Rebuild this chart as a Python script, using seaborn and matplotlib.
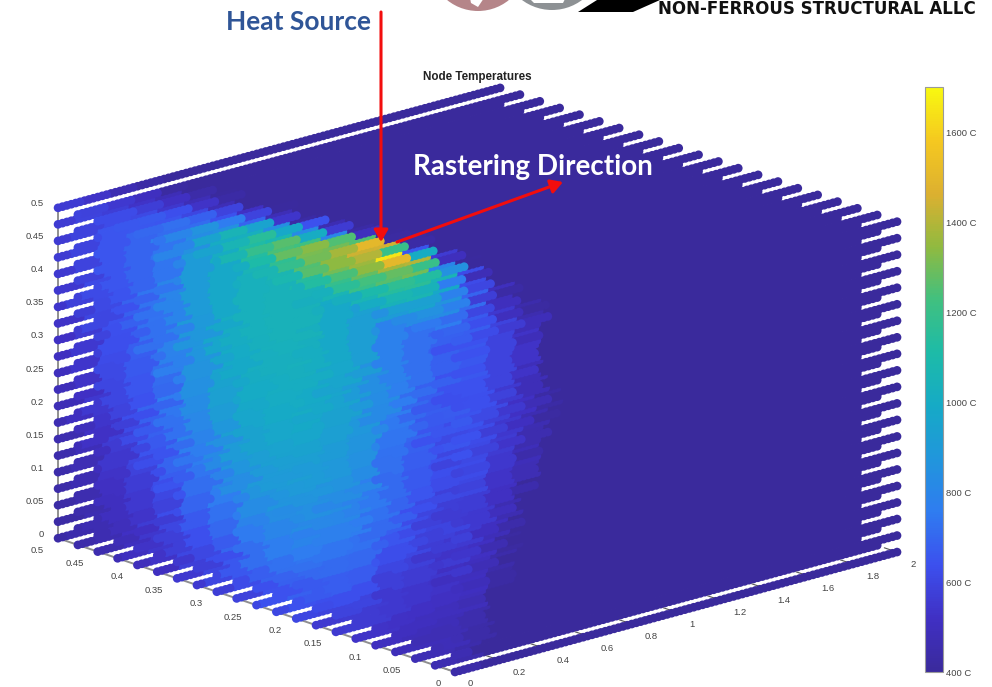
import numpy as np
import seaborn as sns
import matplotlib
matplotlib.use("Agg")
import matplotlib.pyplot as plt
from matplotlib.cm import ScalarMappable
from matplotlib.colors import Normalize
from matplotlib.patches import Circle, Polygon
from mpl_toolkits.mplot3d import proj3d

# ---------- data ----------
title = "Node Temperatures"
x_ticks = [0, 0.2, 0.4, 0.6, 0.8, 1, 1.2, 1.4, 1.6, 1.8, 2]
y_ticks = [0, 0.05, 0.1, 0.15, 0.2, 0.25, 0.3, 0.35, 0.4, 0.45, 0.5]
z_ticks = [0, 0.05, 0.1, 0.15, 0.2, 0.25, 0.3, 0.35, 0.4, 0.45, 0.5]
bar_ticks = [400, 600, 800, 1000, 1200, 1400, 1600]
bar_labels = ["400 C", "600 C", "800 C", "1000 C", "1200 C", "1400 C", "1600 C"]
t_min, t_max = 400, 1700
base_temp = 400

# x = 0 face: rows z = .425 ... 0, columns y = .5 ... 0 (step .025)
left_face = [
 [560,590,620,650,690,740,800,900,980,1010,1030,1040,1040,1020,980,920,850,780,720,680,640],
 [555,585,615,645,685,735,795,890,975,1005,1025,1030,1030,1010,970,910,840,770,710,670,630],
 [550,580,610,640,680,730,790,880,965,995,1015,1020,1020,1000,960,900,830,760,700,660,620],
 [540,570,600,635,675,725,785,870,955,985,1005,1010,1010,990,950,890,820,750,690,650,610],
 [530,560,590,630,670,720,780,860,945,975,995,1000,1000,980,940,880,810,740,680,640,600],
 [520,550,580,620,660,710,770,845,930,960,980,990,985,965,925,865,800,730,670,630,590],
 [510,540,570,610,650,700,760,830,910,945,965,970,965,945,905,850,785,720,660,620,580],
 [500,530,560,600,640,690,745,810,880,925,945,950,945,925,885,830,770,705,650,610,570],
 [490,520,550,590,630,680,730,790,850,900,920,925,920,900,860,810,750,690,635,595,560],
 [480,510,540,575,615,660,710,765,820,870,895,900,895,875,835,785,730,670,620,580,545],
 [470,495,525,560,600,645,690,740,790,835,865,870,865,845,805,760,705,650,600,565,530],
 [460,485,510,545,585,625,670,715,760,800,830,835,830,810,775,730,680,625,580,545,515],
 [450,475,500,530,565,605,645,690,730,765,790,800,795,775,740,700,650,600,560,530,505],
 [445,465,490,515,550,585,625,660,700,730,755,765,760,740,705,665,620,575,540,515,495],
 [440,460,480,505,535,565,600,635,665,695,715,725,720,700,670,630,590,550,520,500,485],
 [435,455,470,495,520,545,575,605,630,655,675,685,680,660,630,595,560,525,505,490,475],
 [430,450,465,485,505,530,550,575,600,620,635,640,640,620,590,560,530,505,490,475,465],
 [430,445,460,475,495,510,530,550,570,585,600,605,600,580,555,530,505,490,475,465,455],
]

# top surface: rows y = .5 ... 0 (step .025), columns x = 0, .05, ... .7
top_face = [
 [560,560,550,530,510,490,470,450,430,410,400,400,400,400,400],
 [590,590,585,570,550,530,505,480,450,420,400,400,400,400,400],
 [620,620,620,610,590,570,545,515,480,440,410,400,400,400,400],
 [650,655,660,660,650,630,600,570,530,480,430,400,400,400,400],
 [690,700,710,720,720,710,680,640,590,520,450,400,400,400,400],
 [740,770,800,830,860,850,820,760,690,590,480,410,400,400,400],
 [800,850,900,950,1000,1050,1020,950,840,700,540,430,400,400,400],
 [900,950,1000,1060,1120,1180,1150,1080,980,820,640,470,410,400,400],
 [980,1020,1070,1130,1190,1240,1260,1220,1120,1000,800,560,430,400,400],
 [1010,1050,1110,1170,1230,1280,1310,1330,1300,1250,1250,800,500,410,400],
 [1030,1070,1130,1190,1250,1300,1340,1360,1380,1440,1500,1450,620,420,400],
 [1040,1080,1140,1200,1260,1300,1340,1360,1400,1650,1680,1200,650,430,400],
 [1040,1080,1130,1190,1240,1280,1310,1340,1380,1500,1400,1000,560,420,400],
 [1030,1060,1110,1160,1200,1230,1260,1280,1300,1320,1200,800,500,410,400],
 [990,1020,1060,1100,1140,1160,1170,1160,1130,1050,850,620,450,400,400],
 [930,960,1000,1040,1070,1070,1040,980,880,760,620,480,400,400,400],
 [860,900,930,950,960,930,860,780,690,600,500,420,400,400,400],
 [790,820,840,850,830,780,710,640,570,500,430,400,400,400,400],
 [730,750,760,750,710,660,600,550,500,450,410,400,400,400,400],
 [680,690,690,670,630,590,540,500,460,420,400,400,400,400,400],
 [640,640,630,600,570,530,490,460,430,410,400,400,400,400,400],
]

# y = 0 face: rows z = .425 ... 0, columns x = 0, .05, ... .45
right_face = [
 [670,655,640,620,590,560,530,490,440,400],
 [665,650,635,615,585,555,525,485,435,400],
 [660,645,630,610,580,550,520,480,430,400],
 [650,640,620,600,570,545,510,470,420,400],
 [640,630,610,585,560,535,500,460,410,400],
 [630,620,600,570,545,520,490,445,400,400],
 [620,605,585,555,530,505,475,420,400,400],
 [610,590,565,540,515,490,450,400,400,400],
 [595,575,550,525,500,470,420,400,400,400],
 [580,555,530,510,485,445,400,400,400,400],
 [560,540,515,495,465,420,400,400,400,400],
 [545,525,500,480,445,405,400,400,400,400],
 [530,510,490,465,425,400,400,400,400,400],
 [515,495,475,445,405,400,400,400,400,400],
 [500,480,455,425,400,400,400,400,400,400],
 [485,465,440,410,400,400,400,400,400,400],
 [470,450,430,400,400,400,400,400,400,400],
 [455,440,420,400,400,400,400,400,400,400],
]

parula_like = ["#3a2a9c", "#4030c4", "#3c50ee", "#2f7cf0", "#2196dc", "#16aac6",
               "#1dbba8", "#40c080", "#90ba40", "#dcb030", "#f5c820", "#f8f810"]

# node lattice
x_nodes = np.arange(101) * 0.02
y_nodes = np.arange(21) * 0.025
z_nodes = np.arange(21) * 0.025

# ---------- style ----------
sns.set_theme(style="white")
plt.rcParams["font.family"] = ["Liberation Sans", "DejaVu Sans"]
for k in ("xtick.color", "ytick.color", "axes.labelcolor"):
    plt.rcParams[k] = "#555555"
cmap = sns.blend_palette(parula_like, n_colors=256, as_cmap=True)
norm = Normalize(t_min, t_max)

W, H = 992, 687
fig = plt.figure(figsize=(W / 100, H / 100), dpi=100, facecolor="white")

# ---------- temperature lookup per node ----------
# each node takes the reading of the outer face it lies behind along the view ray;
# a run of nodes along a row shares one reading, which gives the streaks of the picture
L, T, R = np.array(left_face), np.array(top_face), np.array(right_face)
X, Y, Z = np.meshgrid(x_nodes, y_nodes, z_nodes, indexing="ij")
zi0 = np.rint(Z / 0.025).astype(int)
yi0 = np.rint(Y / 0.025).astype(int)
run = 0.12
shift = run * ((zi0 * zi0 * 3 + yi0 * 2) % 7) / 7
Xq = np.clip((np.floor((X + shift) / run) + 0.5) * run - shift, 0, 2)
rate_y = 442 / 398
rate_z = (120 + 134 * rate_y) / 331
fa, fb, fc = Xq / 2, Y / 0.5, (0.5 - Z) / 0.5
ta, tb, tc = fa, fb / rate_y, fc / rate_z
t_hit = np.minimum(np.minimum(ta, tb), tc)
xh = (fa - t_hit) * 2
yh = (fb - rate_y * t_hit) * 0.5
zh = 0.5 - (fc - rate_z * t_hit) * 0.5
row_z = 17 - np.clip(np.rint(zh / 0.025).astype(int), 0, 17)
col_y = 20 - np.clip(np.rint(yh / 0.025).astype(int), 0, 20)
xi5 = np.rint(xh / 0.05).astype(int)
temp = np.full(X.shape, float(base_temp))
m = ta <= np.minimum(tb, tc)
temp[m] = L[row_z[m], col_y[m]]
m = (tb < ta) & (tb <= tc)
temp[m] = np.where(xi5[m] < R.shape[1], R[row_z[m], np.clip(xi5[m], 0, R.shape[1] - 1)], base_temp)
m = (tc < ta) & (tc < tb)
temp[m] = np.where(xi5[m] < T.shape[1], T[col_y[m], np.clip(xi5[m], 0, T.shape[1] - 1)], base_temp)

# ---------- 3D axes ----------
size = 900
ax = fig.add_axes([30 / W, (H - 830) / H, size / W, size / H], projection="3d",
                  computed_zorder=False)
ax.set_proj_type("ortho")
ax.view_init(elev=17.6, azim=-131.9)
aspect = (594.5, 595.0, 347.0)
ax.set_box_aspect(aspect)


def limits():
    ax.set_xlim(0, 2, view_margin=0)
    ax.set_ylim(0, 0.5, view_margin=0)
    ax.set_zlim(0, 0.5, view_margin=0)


limits()
ax.patch.set_alpha(0)
ax.grid(False)
for a in (ax.xaxis, ax.yaxis, ax.zaxis):
    a.set_pane_color((1, 1, 1, 0))
    a.pane.set_edgecolor((1, 1, 1, 0))
    a.line.set_color("#8f8f8f")
    a.line.set_linewidth(1.4)
    a._axinfo["tick"]["color"] = "#777777"
    a._axinfo["tick"]["inward_factor"] = 0.0
    a._axinfo["tick"]["outward_factor"] = 0.4
    a._axinfo["tick"]["linewidth"] = {True: 0.8, False: 0.5}

ax.set_xticks(x_ticks, ["" for v in x_ticks])
ax.set_yticks(y_ticks, ["" for v in y_ticks])
ax.set_zticks(z_ticks, ["" for v in z_ticks])

# place the box so its corners fall where they are in the reference
target_o = np.array([455.0, H - 672.0])
target_x = np.array([897.0, H - 552.0])
zoom = 1.0
pos = np.array([30.0, H - 830.0])


def corner_px(x, y, z):
    fig.canvas.draw()
    px, py, _ = proj3d.proj_transform(x, y, z, ax.get_proj())
    return ax.transData.transform((px, py))


for _ in range(3):
    o = corner_px(0, 0, 0)
    e = corner_px(2, 0, 0)
    zoom *= np.linalg.norm(target_x - target_o) / np.linalg.norm(e - o)
    ax.set_box_aspect(aspect, zoom=zoom)
    o = corner_px(0, 0, 0)
    pos += target_o - o
    ax.set_position([pos[0] / W, pos[1] / H, size / W, size / H])

x_pts = [corner_px(v, 0, 0) for v in x_ticks]
y_pts = [corner_px(0, v, 0) for v in y_ticks]
z_pts = [corner_px(0, 0.5, v) for v in z_ticks]

ax.scatter(X.ravel(), Y.ravel(), Z.ravel(), c=temp.ravel(), cmap=cmap, norm=norm,
           s=39, linewidths=0, depthshade=False, marker="o", alpha=1)
limits()

# ---------- colorbar ----------
cax = fig.add_axes([925 / W, (H - 672) / H, 18 / W, 585 / H])
cb = fig.colorbar(ScalarMappable(norm=norm, cmap=cmap), cax=cax)
cb.set_ticks(bar_ticks, labels=bar_labels)
cb.ax.tick_params(direction="in", length=6, width=0.7, color="#555555",
                  labelsize=6.8, labelcolor="#444444", pad=2.5, right=True)
cb.outline.set_edgecolor("#9a9a9a")
cb.outline.set_linewidth(0.8)

# ---------- overlay in pixel coordinates ----------
ov = fig.add_axes([0, 0, 1, 1], facecolor="none", zorder=10)
ov.set_xlim(0, W)
ov.set_ylim(H, 0)
ov.axis("off")

tick_style = dict(fontsize=6.8, color="#444444", va="center")
for v, p in zip(x_ticks, x_pts):
    ov.text(p[0] + 13, H - p[1] + 12, f"{v:g}", ha="left", **tick_style)
for v, p in zip(y_ticks, y_pts):
    ov.text(p[0] - 14, H - p[1] + 12, f"{v:g}", ha="right", **tick_style)
for v, p in zip(z_ticks, z_pts):
    ov.text(p[0] - 14, H - p[1] - 4, f"{v:g}", ha="right", **tick_style)

ov.text(477, 77, title, ha="center", va="center", fontsize=8.4, fontweight="bold", color="#222222")

ov.add_patch(Circle((478, -38), 49, facecolor="#b58589", edgecolor="none"))
ov.add_patch(Polygon([[470, -2], [484, -2], [478, 7], [471, 3]], closed=True, facecolor="white", edgecolor="none"))
ov.add_patch(Circle((552, -40), 50, facecolor="#8d9194", edgecolor="none"))
ov.add_patch(Polygon([[530, -1], [565, -1], [563, 3], [534, 3]], closed=True, facecolor="white", edgecolor="none"))
ov.add_patch(Polygon([[578, 12], [633, 12], [660, 0], [597, 0]], closed=True, facecolor="black", edgecolor="none"))
ov.text(658, 8.5, "NON-FERROUS STRUCTURAL ALLC", ha="left", va="center", fontsize=12.0,
        fontweight="bold", color="#111111", family="DejaVu Sans")

ov.text(299, 22, "Heat Source", ha="center", va="center", fontsize=19, fontweight="bold",
        color="#2f5597", family="Lato")
ov.text(533, 167, "Rastering Direction", ha="center", va="center", fontsize=20, fontweight="bold",
        color="white", family="Lato")
ov.annotate("", xy=(381, 242), xytext=(381, 12),
            arrowprops=dict(arrowstyle="-|>,head_width=0.35,head_length=0.6", color="#f20d0d", lw=2.2,
                            shrinkA=0, shrinkB=0))
ov.annotate("", xy=(563, 182), xytext=(397, 242),
            arrowprops=dict(arrowstyle="-|>,head_width=0.35,head_length=0.6", color="#f20d0d", lw=2.2,
                            shrinkA=0, shrinkB=0))

fig.savefig("out.png", dpi=100, facecolor="white")
